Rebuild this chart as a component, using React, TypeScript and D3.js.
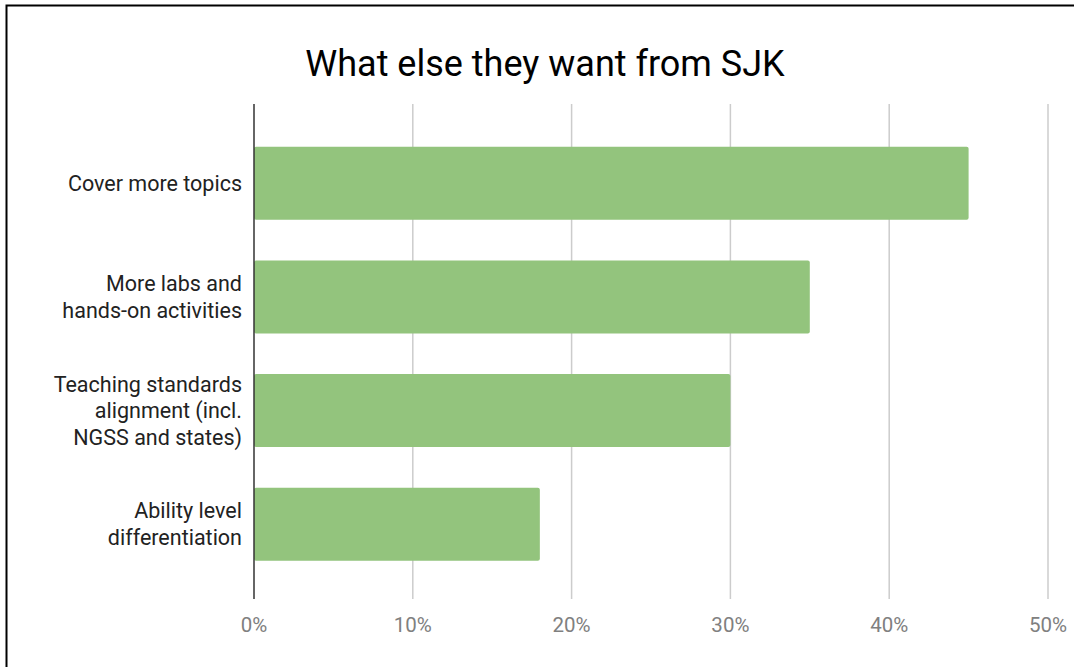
import React from "react";
import * as d3 from "d3";

const categories = [
  "Cover more topics",
  "More labs and\nhands-on activities",
  "Teaching standards\nalignment (incl.\nNGSS and states)",
  "Ability level\ndifferentiation",
];
const values = [45, 35, 30, 18];
const xTicks = [0, 10, 20, 30, 40, 50];
const title = "What else they want from SJK";

const W = 1074;
const H = 667;

export default function App() {
  const x = d3.scaleLinear().domain([0, 50]).range([254, 1048]);
  const y = d3
    .scaleBand<string>()
    .domain(categories)
    .range([126.5, 581])
    .paddingInner(0.357)
    .paddingOuter(0.1785);
  const gridTop = 104;
  const gridBottom = 599;
  const font = "Roboto, 'Noto Sans', sans-serif";
  return (
    <svg
      width={W}
      height={H}
      style={{ position: "absolute", left: 0, top: 0, background: "#fff" }}
      fontFamily={font}
    >
      <rect x={6.5} y={5.5} width={W + 20} height={H + 20} fill="#fff" stroke="#000" strokeWidth={2} />
      <text x={545} y={76} textAnchor="middle" fontSize={36} fill="#000">
        {title}
      </text>
      {xTicks.map((t) =>
        t === 0 ? null : (
          <line key={"g" + t} x1={x(t)} x2={x(t)} y1={gridTop} y2={gridBottom} stroke="#cccccc" strokeWidth={1.5} />
        )
      )}
      {categories.map((c, i) => (
        <rect
          key={c}
          x={x(0)}
          y={y(c)}
          width={x(values[i]) - x(0)}
          height={y.bandwidth()}
          fill="#93c47d"
          rx={2}
        />
      ))}
      <line x1={x(0)} x2={x(0)} y1={gridTop} y2={gridBottom} stroke="#333" strokeWidth={1.5} />
      {categories.map((c) => {
        const lines = c.split("\n");
        const cy = (y(c) as number) + y.bandwidth() / 2;
        return (
          <text key={"l" + c} x={242} textAnchor="end" fontSize={21.5} fill="#222">
            {lines.map((ln, j) => (
              <tspan key={j} x={242} y={cy + (j - (lines.length - 1) / 2) * 26.5} dy="0.35em">
                {ln}
              </tspan>
            ))}
          </text>
        );
      })}
      {xTicks.map((t) => (
        <text key={"t" + t} x={x(t)} y={625} dy="0.35em" textAnchor="middle" fontSize={20.5} fill="#808080">
          {t + "%"}
        </text>
      ))}
    </svg>
  );
}
